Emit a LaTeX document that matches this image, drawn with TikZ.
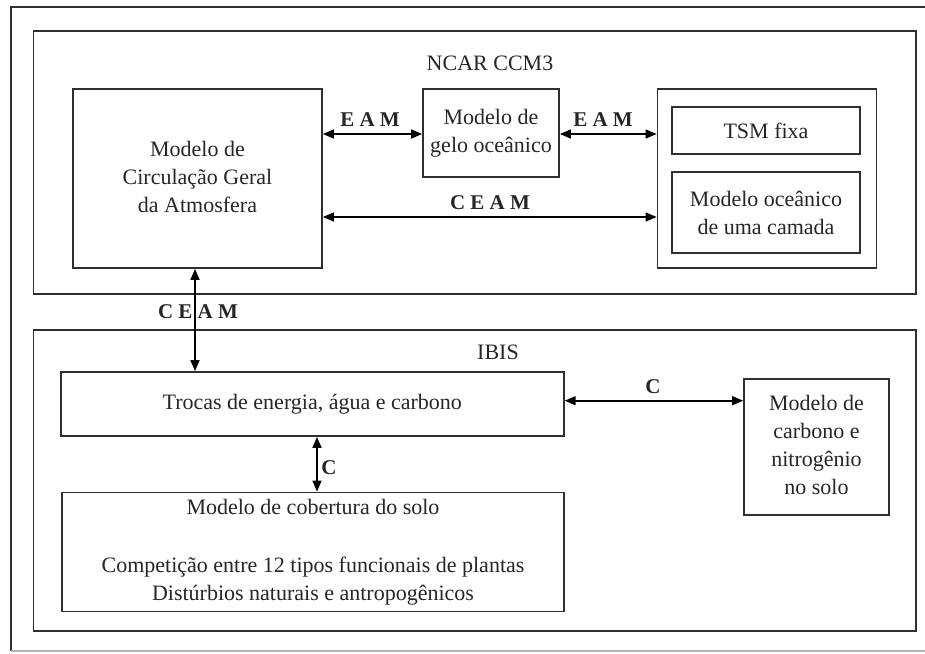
\documentclass[tikz,border=0pt]{standalone}
\usepackage{fontspec}
\setmainfont{Liberation Serif}
\usetikzlibrary{arrows.meta}
\definecolor{ln}{HTML}{303030}
\begin{document}
\begin{tikzpicture}[x=1pt,y=-1pt,
  box/.style={draw=ln,line width=1.8pt,rectangle,inner sep=0pt,align=center,
    font=\fontsize{22}{28}\selectfont,text=black!85},
  lbl/.style={font=\fontsize{21}{24}\selectfont\bfseries,text=black!85,inner sep=0pt},
  ttl/.style={font=\fontsize{22}{28}\selectfont,text=black!85,inner sep=0pt},
  conn/.style={draw=black,line width=1.6pt,{Triangle[length=11pt,width=9pt]}-{Triangle[length=11pt,width=9pt]}}]
\useasboundingbox (0,0) rectangle (925,653);
\fill[white] (0,0) rectangle (925,653);
% outer frame
\draw[ln,line width=1.8pt] (940,7) -- (11,7) -- (11,651);
\draw[black!30,line width=1.2pt] (11,651) -- (940,651);
% group frames
\draw[ln,line width=1.8pt] (33.5,31) rectangle (915.7,294);
\draw[ln,line width=1.8pt] (33.5,330) rectangle (915.7,631);
\node[ttl] (ncar) at (490,63) {NCAR CCM3};
\node[ttl] (ibis) at (498,352) {IBIS};
% nodes
\node[box,minimum width=249pt,minimum height=179pt] (gcm) at (197.5,178.5) {\raisebox{3pt}{\begin{tabular}{@{}c@{}}Modelo de\\Circulação Geral\\da Atmosfera\end{tabular}}};
\node[box,minimum width=136pt,minimum height=88pt] (gelo) at (491,133) {Modelo de\\gelo oceânico};
\node[box,minimum width=219pt,minimum height=179pt] (ocean) at (767,178.5) {};
\node[box,minimum width=188pt,minimum height=47pt] (tsm) at (766,130.5) {TSM fixa};
\node[box,minimum width=188pt,minimum height=81pt] (cam) at (766,212.5) {Modelo oceânico\\de uma camada};
\node[box,minimum width=503pt,minimum height=64pt] (trocas) at (312.3,404) {\raisebox{-4pt}{Trocas de energia, água e carbono}};
\node[box,minimum width=502pt,minimum height=119pt] (cob) at (313,552) {\raisebox{-3pt}{\begin{tabular}{@{}c@{}}Modelo de cobertura do solo\\[30pt]Competição entre 12 tipos funcionais de plantas\\Distúrbios naturais e antropogênicos\end{tabular}}};
\node[box,minimum width=145pt,minimum height=136pt] (carb) at (816.5,447) {\raisebox{3pt}{\begin{tabular}{@{}c@{}}Modelo de\\carbono e\\nitrogênio\\no solo\end{tabular}}};
% connectors
\draw[conn] (gcm.east |- 0,134) -- (gelo.west |- 0,134);
\draw[conn] (gelo.east |- 0,134) -- (ocean.west |- 0,134);
\draw[conn] (gcm.east |- 0,217) -- (ocean.west |- 0,217);
\draw[conn] (gcm.south -| 195,0) -- (trocas.north -| 195,0);
\draw[conn] (trocas.south -| 317,0) -- (cob.north -| 317,0);
\draw[conn] (trocas.east |- 0,400.7) -- (carb.west |- 0,400.7);
% labels
\node[lbl] (l1) at (370,120) {E A M};
\node[lbl] (l2) at (603,120) {E A M};
\node[lbl] (l3) at (490,203) {C E A M};
\node[lbl] (l4) at (198,312) {C E A M};
\node[lbl] (l5) at (329,468) {C};
\node[lbl] (l6) at (653,387) {C};
\end{tikzpicture}
\end{document}
